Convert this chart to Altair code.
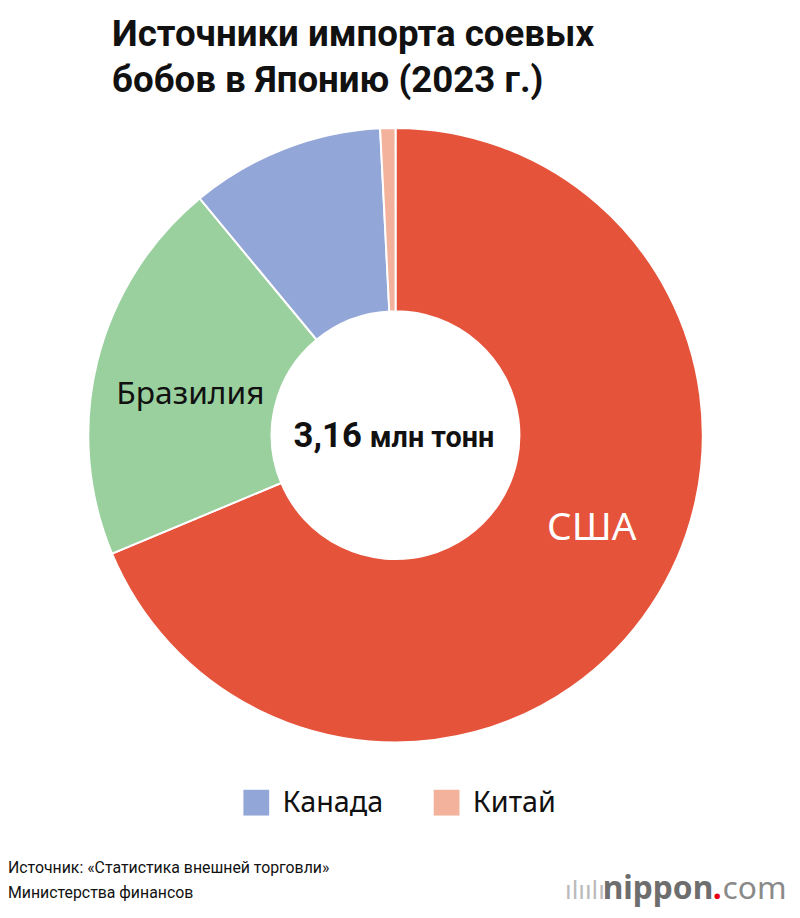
import altair as alt
import pandas as pd

countries = ["США", "Бразилия", "Канада", "Китай"]
shares = [68.7, 20.3, 10.2, 0.8]
colors = ["#E5533B", "#9AD09E", "#93A6D8", "#F2B29B"]
legend_items = ["Канада", "Китай"]

title_lines = ["Источники импорта соевых", "бобов в Японию (2023 г.)"]
center_value = "3,16"
center_unit = "млн тонн"
source_lines = ["Источник: «Статистика внешней торговли»", "Министерства финансов"]

df = pd.DataFrame({"country": countries, "share": shares, "order": list(range(len(countries)))})

W, H = 791, 900
CX, CY = 391, 427
FONT = "Noto Sans"
NARROW = "Roboto"

base = alt.Chart(df)

arcs = base.mark_arc(outerRadius=310, innerRadius=125, stroke="white", strokeWidth=2).encode(
    theta=alt.Theta("share:Q", stack=True),
    order=alt.Order("order:Q"),
    color=alt.Color(
        "country:N",
        scale=alt.Scale(domain=countries, range=colors),
        legend=alt.Legend(
            values=legend_items,
            orient="none",
            legendX=236,
            legendY=783,
            direction="horizontal",
            title=None,
            symbolType="square",
            symbolSize=676,
            symbolStrokeWidth=0,
            symbolOpacity=1,
            labelFontSize=29,
            labelFont=FONT,
            labelColor="#111111",
            labelOffset=12,
            columnPadding=49,
        ),
    ),
    x=alt.value(CX),
    y=alt.value(CY),
)

def txt(s, x, y, size, weight="normal", color="#111111", align="left", font=FONT):
    return alt.Chart(pd.DataFrame({"t": [s]})).mark_text(
        align=align, baseline="alphabetic", fontSize=size, fontWeight=weight,
        color=color, font=font,
    ).encode(text="t:N", x=alt.value(x), y=alt.value(y))

layers = [
    arcs,
    txt(title_lines[0], 105, 34, 37, "bold", font=NARROW),
    txt(title_lines[1], 105, 81, 37, "bold", font=NARROW),
    txt("Бразилия", 184, 396, 32, align="center"),
    txt("США", 589, 533, 39, color="white", align="center"),
    txt(center_value, 357, 439, 35, "bold", align="right", font=NARROW),
    txt(center_unit, 365, 439, 29, "bold", font=NARROW),
    txt(source_lines[0], 0, 869, 16, font=NARROW),
    txt(source_lines[1], 0, 894, 16, font=NARROW),
    txt("ılıılı", 562, 895, 26, color="#bbbbbb"),
    txt("nippon", 600, 895, 32, "bold", color="#6e6e6e"),
    txt(".", 711, 895, 32, "bold", color="#e60012"),
    txt("com", 721, 895, 32, color="#8a8a8a"),
]

chart = alt.layer(*layers).properties(
    width=W, height=H, autosize=alt.AutoSizeParams(type="none"), padding=0
).configure_view(stroke=None)

chart.save("out.html", embed_options={"renderer": "svg", "actions": False})
